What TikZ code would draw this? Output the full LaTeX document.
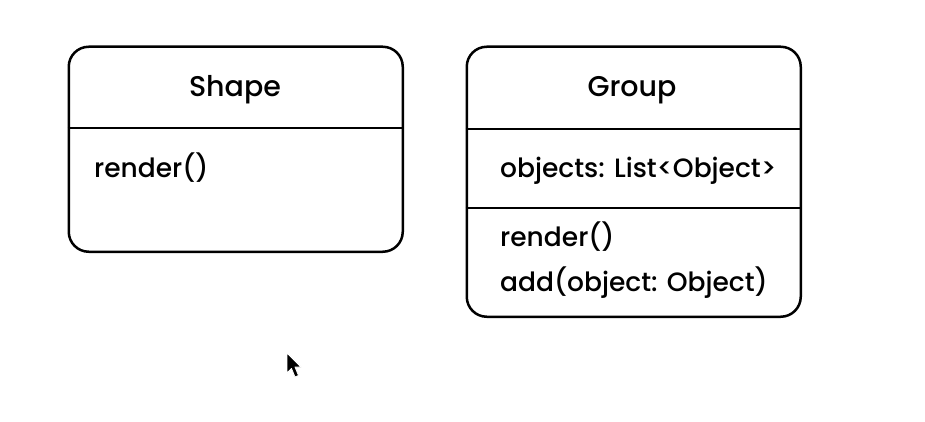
\documentclass[tikz,border=0pt]{standalone}
\usepackage{fontspec}
\setmainfont{Poppins}[UprightFont=* Medium]
\begin{document}
\begin{tikzpicture}[x=1pt,y=-1pt,
  umlbox/.style={draw=black, line width=2.5pt, rounded corners=20pt, anchor=north west, inner sep=0pt},
  divider/.style={draw=black, line width=2.5pt},
  title/.style={font=\fontsize{28.5}{32}\selectfont, anchor=base, inner sep=0pt},
  member/.style={font=\fontsize{26.5}{30}\selectfont, anchor=base west, inner sep=0pt}]
\useasboundingbox (0,0) rectangle (925,422);
% Shape box
\node[umlbox, minimum width=334pt, minimum height=205pt] (shape) at (67.5,45.5) {};
\coordinate (s1) at (67.5,128);
\coordinate (s2) at (401.5,128);
\draw[divider] (s1) -- (s2);
\node[title] (shapetitle) at (235,97) {Shape};
\node[member] (shaperender) at (94,178) {render()};
% Group box
\node[umlbox, minimum width=334pt, minimum height=270pt] (group) at (465.5,45.5) {};
\coordinate (g1) at (465.5,129);
\coordinate (g2) at (799.5,129);
\coordinate (g3) at (465.5,208);
\coordinate (g4) at (799.5,208);
\draw[divider] (g1) -- (g2);
\draw[divider] (g3) -- (g4);
\node[title] (grouptitle) at (632,97) {Group};
\node[member] (groupobjects) at (500,177) {objects: List<Object>};
\node[member] (grouprender) at (500,246) {render()};
\node[member] (groupadd) at (500,291) {add(object: Object)};
% mouse cursor
\fill[black, draw=white, line width=0.8pt, line join=round]
  (287,353) -- (287,373) -- (291.5,368.5) -- (295,377) -- (298.5,375.5) -- (295,367) -- (301,367) -- cycle;
\end{tikzpicture}
\end{document}
